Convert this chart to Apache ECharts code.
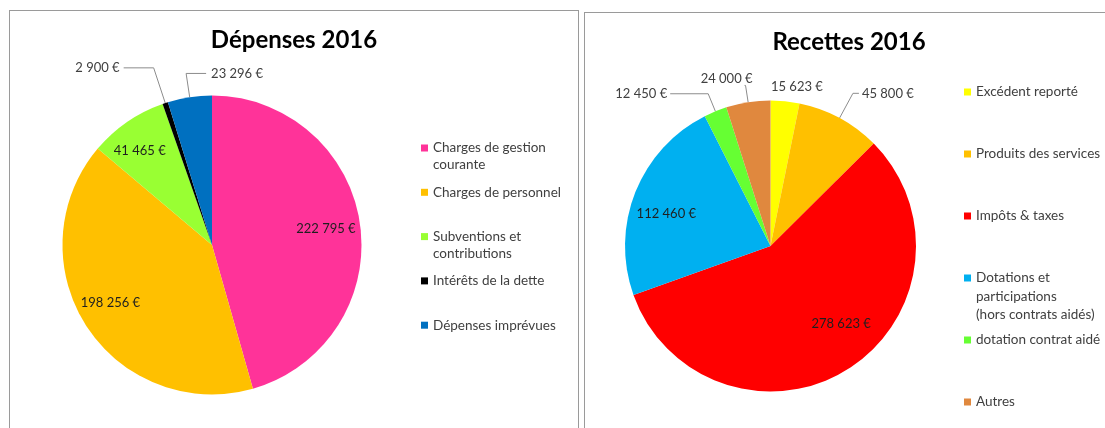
<!DOCTYPE html>
<html>
<head>
<meta charset="utf-8">
<script src="https://cdn.jsdelivr.net/npm/echarts@6/dist/echarts.min.js"></script>
<style>
  html, body { margin: 0; padding: 0; background: #fff; overflow: hidden; width: 1105px; height: 428px; }
  .panel { position: absolute; border: 1px solid #9a9a9a; background: #fff; }
  #left { left: 9px; top: 10px; width: 568px; height: 430px; }
  #right { left: 584px; top: 12px; width: 528px; height: 430px; }
</style>
</head>
<body>
<div id="left" class="panel"></div>
<div id="right" class="panel"></div>
<script>
// Dépenses 2016
const depenseNames = ['Charges de gestion\ncourante', 'Charges de personnel', 'Subventions et\ncontributions', 'Intérêts de la dette', 'Dépenses imprévues']
const depenseValues = [222795, 198256, 41465, 2900, 23296]
const depenseColors = ['#ff3399', '#ffc000', '#99ff33', '#000000', '#0070c0']

// Recettes 2016
const recetteNames = ['Excédent reporté', 'Produits des services', 'Impôts & taxes', 'Dotations et\nparticipations\n(hors contrats aidés)', 'dotation contrat aidé', 'Autres']
const recetteValues = [15623, 45800, 278623, 112460, 12450, 24000]
const recetteColors = ['#ffff00', '#ffc000', '#ff0000', '#00b0f0', '#66ff33', '#e0883e']

const FONT = 'Lato'

function euro (v) {
  return String(v).replace(/\B(?=(\d{3})+(?!\d))/g, ' ') + ' €'
}

// leader line tuning for the labels drawn outside the pie
const depenseOutside = {
  3: { length: 37, length2: 30, dist: 4 },
  4: { length: 24, length2: -20, dist: -5, align: 'left' }
}
const recetteOutside = {
  0: { length: 8, length2: 11, dist: 0, noLine: true, align: 'center', verticalAlign: 'bottom' },
  1: { length: 28, length2: 6, dist: 3 },
  4: { length: 19, length2: 38, dist: 3 },
  5: { length: 17, length2: 1, dist: -8, verticalAlign: 'bottom' }
}
// small nudges for the labels inside the slices (Excel "best fit")
const depenseInsideShift = { 1: { dx: -5, dy: -5 }, 2: { dx: -7, dy: 1 } }
const recetteInsideShift = { 2: { dx: 12, dy: -15 }, 3: { dx: -2, dy: 9 } }

function buildLegends (names, left, firstY, step, lh) {
  return names.map(function (name, i) {
    let lines = name.split('\n').length
    let blockH = (2 * lines - 1) * lh
    return {
      data: [name],
      left: left,
      top: firstY + i * step - blockH / 2,
      padding: 0,
      orient: 'vertical',
      icon: 'rect',
      itemWidth: 7,
      itemHeight: 7,
      selectedMode: false,
      formatter: function (n) {
        return '\n'.repeat(lines - 1) + n
      },
      textStyle: {
        fontFamily: FONT,
        fontSize: 13.5,
        color: '#404040',
        lineHeight: lh
      }
    }
  })
}

function buildOption (title, names, values, colors, outside, insideShift, center, radius, innerRadius, legends) {
  let mainData = names.map(function (name, i) {
    let cfg = outside[i]
    return {
      name: name,
      value: values[i],
      label: { show: !!cfg, distanceToLabelLine: cfg ? cfg.dist : 5 },
      labelLine: {
        show: !!cfg && !cfg.noLine,
        length: cfg ? cfg.length : 10,
        length2: cfg ? cfg.length2 : 10,
        minTurnAngle: 0
      }
    }
  })
  let innerData = names.map(function (name, i) {
    return { name: name, value: values[i], label: { show: !outside[i] } }
  })
  return {
    animation: false,
    color: colors,
    title: {
      text: title,
      left: 'center',
      top: 14,
      padding: 0,
      textStyle: { fontFamily: FONT, fontSize: 24, fontWeight: 'bold', color: '#000', lineHeight: 30 }
    },
    legend: legends,
    series: [{
      type: 'pie',
      center: center,
      radius: radius,
      startAngle: 90,
      clockwise: true,
      avoidLabelOverlap: false,
      emphasis: { disabled: true },
      itemStyle: { borderWidth: 0 },
      label: {
        position: 'outside',
        formatter: function (p) { return euro(p.value) },
        fontFamily: FONT,
        fontSize: 13,
        color: '#404040'
      },
      labelLine: { lineStyle: { color: '#8c8c8c', width: 1 } },
      labelLayout: function (params) {
        let cfg = outside[params.dataIndex]
        if (!cfg) return {}
        let res = {}
        if (cfg.align) res.align = cfg.align
        if (cfg.verticalAlign) res.verticalAlign = cfg.verticalAlign
        return res
      },
      data: mainData
    }, {
      // transparent copy, only used to place the labels inside the slices
      type: 'pie',
      center: center,
      radius: innerRadius,
      startAngle: 90,
      clockwise: true,
      silent: true,
      avoidLabelOverlap: false,
      itemStyle: { color: 'rgba(0,0,0,0)', borderWidth: 0 },
      label: {
        position: 'inside',
        formatter: function (p) { return euro(p.value) },
        fontFamily: FONT,
        fontSize: 13,
        color: '#1f1f1f'
      },
      labelLine: { show: false },
      labelLayout: function (params) {
        return insideShift[params.dataIndex] || {}
      },
      data: innerData
    }]
  }
}

echarts.init(document.getElementById('left')).setOption(
  buildOption('Dépenses 2016', depenseNames, depenseValues, depenseColors, depenseOutside, depenseInsideShift,
    [202, 234], 149.5, [96, 128], buildLegends(depenseNames, 411, 137, 44.3, 17))
)

echarts.init(document.getElementById('right')).setOption(
  buildOption('Recettes 2016', recetteNames, recetteValues, recetteColors, recetteOutside, recetteInsideShift,
    [185.5, 233], 145.5, [91, 123], buildLegends(recetteNames, 379, 79, 62, 18.5))
)
</script>
</body>
</html>
